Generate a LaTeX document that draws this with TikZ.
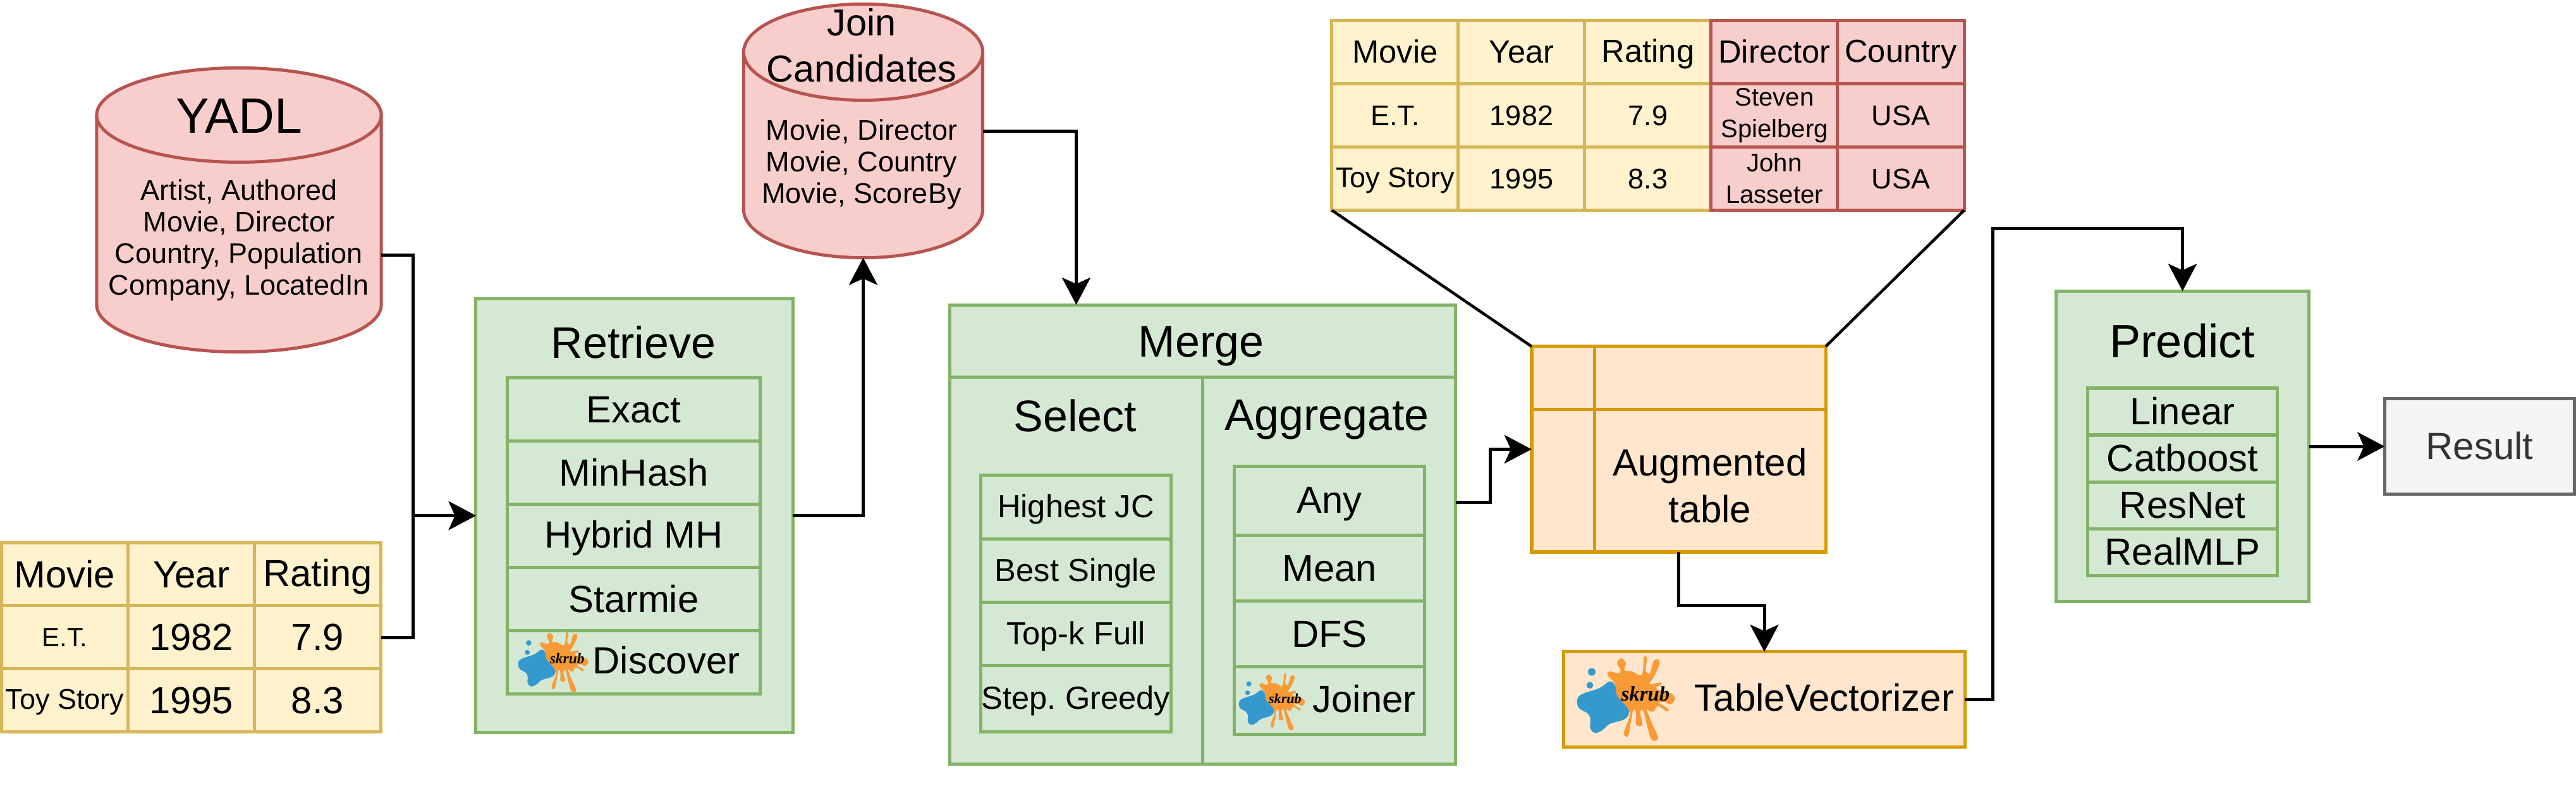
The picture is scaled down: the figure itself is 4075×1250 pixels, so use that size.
\documentclass[tikz,border=0pt]{standalone}
\usepackage{fontspec}
\usepackage{xcolor}
\setmainfont{Liberation Sans}
\newfontfamily\logofont{Liberation Serif}
\usetikzlibrary{arrows.meta}
\definecolor{dbred}{HTML}{B85450}
\definecolor{softred}{HTML}{F8CECC}
\definecolor{stepgreen}{HTML}{82B366}
\definecolor{softgreen}{HTML}{D5E8D4}
\definecolor{tablegold}{HTML}{D6B656}
\definecolor{softgold}{HTML}{FFF2CC}
\definecolor{augorange}{HTML}{D79B00}
\definecolor{softorange}{HTML}{FFE6CC}
\definecolor{resultgray}{HTML}{666666}
\definecolor{softgray}{HTML}{F5F5F5}
\definecolor{resulttext}{HTML}{333333}
\definecolor{logoblue}{HTML}{3499CD}
\definecolor{logoorange}{HTML}{F89A36}
\newcommand{\fsTiny}{\fontsize{11.4}{14.2}\selectfont}
\newcommand{\fsSmall}{\fontsize{12.8}{14.2}\selectfont}
\newcommand{\fsTable}{\fontsize{14.4}{17}\selectfont}
\newcommand{\fsItem}{\fontsize{17}{20}\selectfont}
\newcommand{\fsHead}{\fontsize{17.07}{21.05}\selectfont}
\newcommand{\fsStep}{\fontsize{19.9}{23}\selectfont}
\newcommand{\fsTitle}{\fontsize{22.4}{26}\selectfont}
\newcommand{\capstrut}{\rule[-0.156em]{0pt}{1em}}
\newcommand{\dbdrum}[3]{
  \draw[dbline, fill=softred] ([yshift=-#3]#1.north west) -- ([yshift=#3]#1.south west) arc[start angle=180, end angle=360, x radius=#2, y radius=#3] -- ([yshift=-#3]#1.north east) arc[start angle=0, end angle=180, x radius=#2, y radius=#3] -- cycle;
  \draw[dbline] ([yshift=-#3]#1.north west) arc[start angle=180, end angle=360, x radius=#2, y radius=#3];
}
\frenchspacing
\tikzset{
  skrublogo/.pic={
    \begin{scope}[scale=0.3333, shift={(-397,-285)}]
      \fill[logoorange] plot[smooth cycle, tension=0.55] coordinates {(345,215) (310,172) (320,155) (360,165) (372,150) (355,115) (375,93) (397,115) (390,150) (425,155) (465,175) (478,150) (483,85) (497,95) (490,150) (510,165) (530,105) (552,100) (555,125) (530,180) (510,215) (560,208) (565,217) (540,235) (590,260) (610,258) (630,285) (610,312) (580,300) (555,305) (600,335) (590,345) (550,320) (530,345) (510,345) (495,335) (520,400) (550,470) (530,485) (510,460) (480,345) (465,350) (475,405) (460,415) (445,405) (445,350) (430,345) (410,455) (395,463) (388,445) (415,365) (405,335) (345,270)};
      \fill[logoblue] plot[smooth cycle, tension=0.6] coordinates {(165,295) (185,265) (270,235) (320,203) (345,222) (355,270) (405,330) (410,360) (385,385) (320,405) (285,435) (250,447) (228,425) (228,380) (215,355) (175,330)};
      \fill[logoblue] (235,158) circle[radius=18];
      \fill[logoblue] (226,221) circle[radius=16];
      \node[transform shape, inner sep=0pt, font=\logofont\itshape\bfseries\fontsize{28}{28}\selectfont] (-word) at (490,262) {skrub};
    \end{scope}
  }
}
\begin{document}
\begin{tikzpicture}[
    x=0.01cm, y=-0.01cm,
    dbcyl/.style={rectangle, inner sep=0pt, outer sep=0pt},
    dbline/.style={draw=dbred, line width=0.05cm},
    capline/.style={execute at begin node=\capstrut},
    cellbase/.style={rectangle, draw=tablegold, fill=softgold, line width=0.05cm, inner sep=0pt, outer sep=0pt, align=center, minimum width=2cm, minimum height=1cm},
    tablecell/.style={cellbase, capline},
    addcell/.style={tablecell, draw=dbred, fill=softred},
    addnote/.style={cellbase, draw=dbred, fill=softred, font=\fsTiny},
    panel/.style={rectangle, draw=stepgreen, fill=softgreen, line width=0.05cm, inner sep=0pt, outer sep=0pt},
    method/.style={panel, capline, align=center, minimum width=3.99cm, minimum height=1cm, font=\fsItem},
    augbox/.style={rectangle, draw=augorange, fill=softorange, line width=0.05cm, inner sep=0pt, outer sep=0pt},
    steptitle/.style={capline, inner sep=0pt, align=center, font=\fsStep},
    arrow/.style={-{Stealth[length=0.43cm, width=0.45cm, inset=0.1cm]}, line width=0.05cm},
    link/.style={line width=0.045cm}
  ]
    \useasboundingbox (0,0) rectangle (4075,1250);

    % databases
    \node[dbcyl, minimum width=4.5cm, minimum height=4.49cm] (yadl) at (378,332) {};
    \dbdrum{yadl}{2.25cm}{0.745cm}
    \node[inner sep=0pt, font=\fsTitle] (yadltitle) at (378,183) {YADL};
    \node[inner sep=0pt, align=center, font=\fsSmall] (yadlbody) at (378,380) {Artist, Authored\\Movie, Director\\Country, Population\\Company, LocatedIn};
    \node[dbcyl, minimum width=3.78cm, minimum height=4.01cm] (cand) at (1365.5,207) {};
    \dbdrum{cand}{1.89cm}{0.76cm}
    \node[inner sep=0pt, align=center, font=\fontsize{16.9}{20.8}\selectfont] (candtitle) at (1363,72) {Join\\Candidates};
    \node[inner sep=0pt, align=center, font=\fsSmall] (candbody) at (1363,260) {Movie, Director\\Movie, Country\\Movie, ScoreBy};

    % base table
    \node[tablecell, font=\fsItem] (basemovie) at (102.5,908.5) {Movie};
    \node[tablecell, font=\fsItem] (baseyear) at (302.5,908.5) {Year};
    \node[tablecell, font=\fsItem] (baserating) at (502.5,908.5) {Rating};
    \node[tablecell, font=\fontsize{11.9}{14}\selectfont] (baseet) at (102.5,1008) {E.T.};
    \node[tablecell, font=\fsItem] (baseetyear) at (302.5,1008) {1982};
    \node[tablecell, font=\fsItem] (baseetrating) at (502.5,1008) {7.9};
    \node[tablecell, font=\fsSmall] (basetoy) at (102.5,1107.5) {Toy Story};
    \node[tablecell, font=\fsItem] (basetoyyear) at (302.5,1107.5) {1995};
    \node[tablecell, font=\fsItem] (basetoyrating) at (502.5,1107.5) {8.3};

    % retrieve
    \node[panel, minimum width=5.01cm, minimum height=6.85cm] (retrieve) at (1003.5,815.5) {};
    \node[steptitle] (retrievetitle) at (1002,542) {Retrieve};
    \node[method] (exact) at (1002.5,647.5) {Exact};
    \node[method] (minhash) at (1002.5,747.5) {MinHash};
    \node[method] (hybrid) at (1002.5,847.5) {Hybrid MH};
    \node[method] (starmie) at (1002.5,947.5) {Starmie};
    \node[method] (discoverbox) at (1002.5,1047.5) {};
    \node[capline, inner sep=0pt, font=\fsItem] (discover) at (1054,1045) {Discover};
    \pic (discoverlogo) [scale=0.716] at (875,1047) {skrublogo};

    % merge
    \node[panel, minimum width=8cm, minimum height=7.255cm] (merge) at (1902.5,845) {};
    \node[panel, minimum width=8cm, minimum height=1.145cm] (mergehead) at (1902.5,539.5) {};
    \node[panel, minimum width=4cm, minimum height=6.11cm] (selectcol) at (1702.5,902.5) {};
    \node[panel, minimum width=4cm, minimum height=6.11cm] (aggcol) at (2102.5,902.5) {};
    \node[steptitle] (mergetitle) at (1900,542) {Merge};
    \node[steptitle] (selecttitle) at (1701,658) {Select};
    \node[steptitle] (aggtitle) at (2099,658) {Aggregate};
    \node[method, minimum width=3cm, minimum height=1.01cm, font=\fsTable] (highest) at (1702,802.5) {Highest JC};
    \node[method, minimum width=3cm, font=\fsTable] (bestsingle) at (1702,903) {Best Single};
    \node[method, minimum width=3cm, font=\fsTable] (topk) at (1702,1003) {Top-k Full};
    \node[method, minimum width=3cm, minimum height=1.04cm, font=\fsTable] (greedy) at (1702,1105) {Step. Greedy};
    \node[method, minimum width=3cm, minimum height=1.09cm] (any) at (2103,792) {Any};
    \node[method, minimum width=3cm, minimum height=1.04cm] (mean) at (2103,899) {Mean};
    \node[method, minimum width=3cm, minimum height=1.04cm] (dfs) at (2103,1003) {DFS};
    \node[method, minimum width=3cm, minimum height=1.06cm] (joinerbox) at (2103,1108) {};
    \node[capline, inner sep=0pt, font=\fsItem] (joiner) at (2158,1106) {Joiner};
    \pic (joinerlogo) [scale=0.675] at (2012,1110) {skrublogo};

    % augmented table
    \node[augbox, minimum width=4.65cm, minimum height=3.25cm] (aug) at (2655.5,710.5) {};
    \node[augbox, minimum width=1cm, minimum height=1cm] (augcorner) at (2473,598) {};
    \node[augbox, minimum width=3.65cm, minimum height=1cm] (augtop) at (2705.5,598) {};
    \node[augbox, minimum width=1cm, minimum height=2.25cm] (augleft) at (2473,760) {};
    \node[augbox, minimum width=3.65cm, minimum height=2.25cm] (augmain) at (2705.5,760) {};
    \node[inner sep=0pt, align=center, font=\fsHead] (augtext) at (2705,768) {Augmented\\table};

    % joined table
    \node[tablecell, font=\fsTable] (topmovie) at (2207,82.5) {Movie};
    \node[tablecell, font=\fsTable] (topyear) at (2407,82.5) {Year};
    \node[tablecell, font=\fsTable] (toprating) at (2607,82.5) {Rating};
    \node[tablecell, font=\fsSmall] (topet) at (2207,182.5) {E.T.};
    \node[tablecell, font=\fsSmall] (topetyear) at (2407,182.5) {1982};
    \node[tablecell, font=\fsSmall] (topetrating) at (2607,182.5) {7.9};
    \node[tablecell, font=\fsSmall] (toptoy) at (2207,282.5) {Toy Story};
    \node[tablecell, font=\fsSmall] (toptoyyear) at (2407,282.5) {1995};
    \node[tablecell, font=\fsSmall] (toptoyrating) at (2607,282.5) {8.3};
    \node[addcell, font=\fsTable] (topdirector) at (2807,82.5) {Director};
    \node[addcell, font=\fsTable] (topcountry) at (3007,82.5) {Country};
    \node[addnote] (spielberg) at (2807,182.5) {Steven\\Spielberg};
    \node[addcell, font=\fsSmall] (etusa) at (3007,182.5) {USA};
    \node[addnote] (lasseter) at (2807,282.5) {John\\Lasseter};
    \node[addcell, font=\fsSmall] (toyusa) at (3007,282.5) {USA};

    % vectorizer
    \node[augbox, minimum width=6.34cm, minimum height=1.5cm] (vectorizer) at (2791,1106) {};
    \node[capline, inner sep=0pt, font=\fsHead] (vectorizertext) at (2886,1104) {TableVectorizer};
    \pic (vectorizerlogo) at (2572,1105) {skrublogo};

    % predict
    \node[panel, minimum width=4cm, minimum height=4.91cm] (predict) at (3452.5,706) {};
    \node[capline, inner sep=0pt, font=\fontsize{21}{24}\selectfont] (predicttitle) at (3452,540) {Predict};
    \node[method, minimum width=3cm, minimum height=0.74cm] (linear) at (3452.5,651) {Linear};
    \node[method, minimum width=3cm, minimum height=0.74cm] (catboost) at (3452.5,725) {Catboost};
    \node[method, minimum width=3cm, minimum height=0.74cm] (resnet) at (3452.5,799) {ResNet};
    \node[method, minimum width=3cm, minimum height=0.74cm] (realmlp) at (3452.5,873) {RealMLP};
    \node[rectangle, capline, draw=resultgray, fill=softgray, text=resulttext, line width=0.05cm, inner sep=0pt, outer sep=0pt, minimum width=3cm, minimum height=1.5cm, font=\fsHead] (result) at (3922.5,706) {Result};

    % connectors
    \coordinate (retrievein) at (653,815.5);
    \draw[arrow] ([yshift=-0.71cm]yadl.east) -| (retrievein) -- (retrieve.west);
    \draw[arrow] (baseetrating.east) -| (retrievein) -- (retrieve.west);
    \draw[arrow] (retrieve.east) -| (cand.south);
    \draw[arrow] (cand.east) -| (selectcol.north |- merge.north);
    \draw[arrow] ([yshift=0.5cm]merge.east) -- ++(55,0) |- (aug.west);
    \draw[link] (topmovie.south west |- toptoy.south) -- (aug.north west);
    \draw[link] (toyusa.south east) -- (aug.north east);
    \draw[arrow] (aug.south) -- ++(0,84) -| (vectorizer.north);
    \draw[arrow] (vectorizer.east) -- ++(44.6,0) |- ([yshift=0.985cm]predict.north) -- (predict.north);
    \draw[arrow] (predict.east) -- (result.west);
\end{tikzpicture}
\end{document}
